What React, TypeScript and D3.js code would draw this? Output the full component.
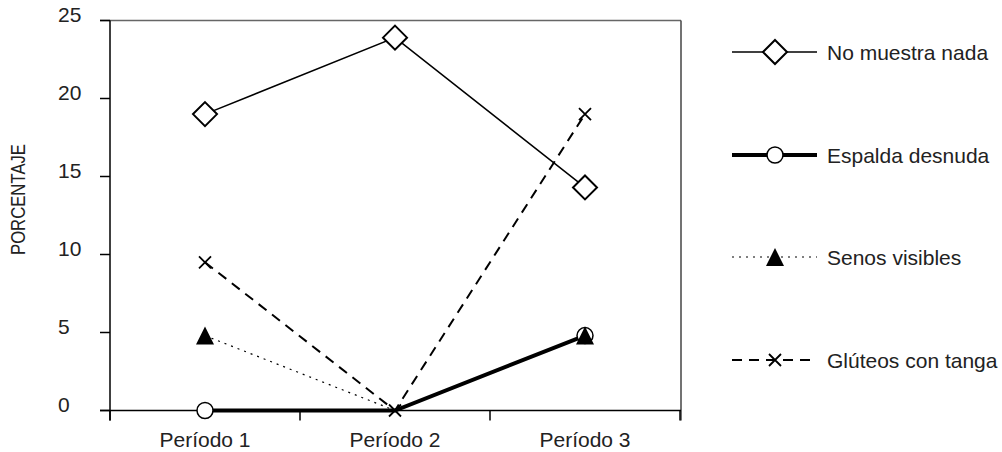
import React from 'react';
import * as d3 from 'd3';

// datos
const PERIODOS = ['Período 1', 'Período 2', 'Período 3'];
const NO_MUESTRA = [19.0, 23.9, 14.3];
const ESPALDA = [0, 0, 4.8];
const SENOS = [4.8, 0, 4.8];
const GLUTEOS = [9.5, 0, 19.0];
const Y_TICKS = [0, 5, 10, 15, 20, 25];

const FONT = '"Liberation Sans", Arial, sans-serif';
const TXT = '#222';

type Serie = {
  name: string;
  values: number[];
  marker: 'diamond' | 'circle' | 'triangle' | 'cross';
  width: number;
  dash: string | null;
  hidden: number[];
};

const SERIES: Serie[] = [
  { name: 'No muestra nada', values: NO_MUESTRA, marker: 'diamond', width: 1.5, dash: null, hidden: [] },
  { name: 'Espalda desnuda', values: ESPALDA, marker: 'circle', width: 4, dash: null, hidden: [1] },
  { name: 'Senos visibles', values: SENOS, marker: 'triangle', width: 1.2, dash: '2,5', hidden: [1] },
  { name: 'Glúteos con tanga', values: GLUTEOS, marker: 'cross', width: 2, dash: '10,7', hidden: [] },
];

function Marker({ type, x, y }: { type: Serie['marker']; x: number; y: number }) {
  if (type === 'diamond') {
    const r = 12;
    return (
      <path d={`M${x},${y - r}L${x + r},${y}L${x},${y + r}L${x - r},${y}Z`}
        fill="#fff" stroke="#000" strokeWidth={2} />
    );
  }
  if (type === 'circle') {
    return <circle cx={x} cy={y} r={8} fill="#fff" stroke="#000" strokeWidth={1.5} />;
  }
  if (type === 'triangle') {
    const h = 18;
    return (
      <path d={`M${x},${y - h / 2}L${x + 9},${y + h / 2}L${x - 9},${y + h / 2}Z`} fill="#000" />
    );
  }
  const s = 6;
  return (
    <path d={`M${x - s},${y - s}L${x + s},${y + s}M${x + s},${y - s}L${x - s},${y + s}`}
      stroke="#000" strokeWidth={1.8} />
  );
}

export default function App() {
  const width = 1002;
  const height = 452;
  const left = 110;
  const right = 680;
  const top = 20.5;
  const bottom = 410.5;

  const x = d3.scaleBand<string>().domain(PERIODOS).range([left, right]).padding(0);
  const y = d3.scaleLinear().domain([0, 25]).range([bottom, top]);
  const cx = (p: string) => (x(p) as number) + x.bandwidth() / 2;

  const line = d3.line<number>()
    .x((_, i) => cx(PERIODOS[i]))
    .y(d => y(d));

  const edges = [...PERIODOS.map(p => x(p) as number), right];
  const drawOrder = [3, 2, 1, 0];
  const legendY = [52, 155, 257, 360];

  return (
    <svg width={width} height={height} style={{ position: 'absolute', left: 0, top: 0 }}
      fontFamily={FONT}>
      <rect width={width} height={height} fill="#fff" />

      {/* marco */}
      <line x1={left - 10} x2={right + 1} y1={top} y2={top} stroke="#666" strokeWidth={1.5} />
      <line x1={right + 1} x2={right + 1} y1={top} y2={bottom + 10} stroke="#444" strokeWidth={1.5} />

      {/* eje y */}
      <line x1={left} x2={left} y1={top} y2={bottom + 10} stroke="#000" strokeWidth={1.5} />
      {Y_TICKS.map(t => (
        <g key={t}>
          <line x1={left - 10} x2={left} y1={y(t)} y2={y(t)} stroke="#000" strokeWidth={1.5} />
          <text x={58} y={y(t) + 1} fontSize={21} fill={TXT}>{t}</text>
        </g>
      ))}
      <text transform={`translate(25,199.5) rotate(-90)`} textAnchor="middle" fontSize={21}
        fill={TXT} textLength={111} lengthAdjust="spacingAndGlyphs">PORCENTAJE</text>

      {/* eje x */}
      <line x1={left - 10} x2={right + 1} y1={bottom} y2={bottom} stroke="#000" strokeWidth={1.5} />
      {edges.map((e, i) => (
        <line key={i} x1={e} x2={e} y1={bottom} y2={bottom + 10} stroke="#000" strokeWidth={1.5} />
      ))}
      {PERIODOS.map(p => (
        <text key={p} x={cx(p)} y={446.5} textAnchor="middle" fontSize={21} fill={TXT}>{p}</text>
      ))}

      {/* líneas */}
      {drawOrder.map(k => {
        const s = SERIES[k];
        return (
          <path key={s.name} d={line(s.values) || ''} fill="none" stroke="#000"
            strokeWidth={s.width} strokeDasharray={s.dash || undefined} />
        );
      })}

      {/* marcadores */}
      {[1, 2, 0, 3].map(k => {
        const s = SERIES[k];
        return s.values.map((v, i) =>
          s.hidden.includes(i) ? null : (
            <Marker key={`${k}-${i}`} type={s.marker} x={cx(PERIODOS[i])} y={y(v)} />
          )
        );
      })}

      {/* leyenda */}
      {SERIES.map((s, i) => (
        <g key={s.name} transform={`translate(0,${legendY[i]})`}>
          <line x1={732} x2={817} y1={0} y2={0} stroke="#000" strokeWidth={s.width}
            strokeDasharray={s.dash || undefined} />
          <Marker type={s.marker} x={775} y={0} />
          <text x={827} y={7.5} fontSize={21} fill={TXT}>{s.name}</text>
        </g>
      ))}
    </svg>
  );
}
